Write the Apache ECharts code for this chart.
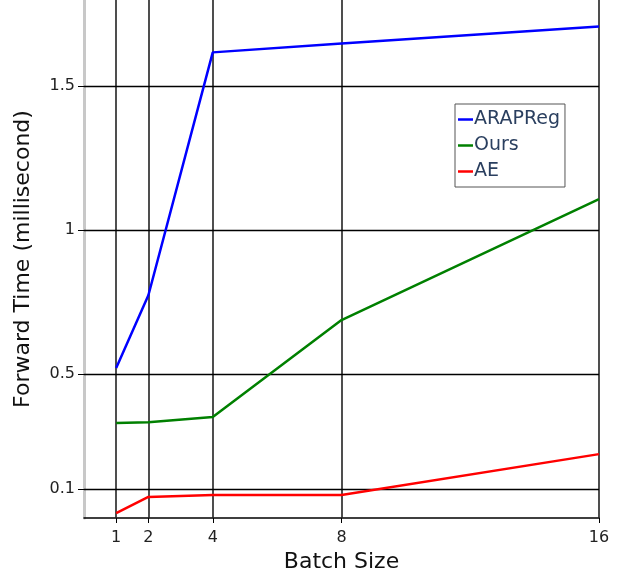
<!DOCTYPE html>
<html><head><meta charset="utf-8">
<script src="https://cdn.jsdelivr.net/npm/echarts@6/dist/echarts.min.js"></script>
<style>html,body{margin:0;padding:0;background:#fff}#c{width:620px;height:575px}</style>
</head><body><div id="c"></div>
<script>
const batchSizes = [1, 2, 4, 8, 16];
const arapreg = [0.521, 0.774, 1.618, 1.649, 1.708];
const ours = [0.330, 0.333, 0.351, 0.688, 1.108];
const ae = [0.017, 0.073, 0.080, 0.080, 0.222];
const yTicks = [0.1, 0.5, 1, 1.5];
const xTicks = [1, 2, 4, 8, 16];

const font = 'DejaVu Sans';
const pairs = a => batchSizes.map((x, i) => [x, a[i]]);
const chart = echarts.init(document.getElementById('c'));
chart.setOption({
  animation: false,
  textStyle: {fontFamily: font},
  grid: {left: 84, right: 21, top: 0, bottom: 57, outerBoundsMode: 'none', containLabel: false},
  legend: {
    orient: 'vertical', left: 455, top: 104, padding: [6, 5, 6, 3],
    borderColor: '#555', borderWidth: 1, backgroundColor: '#fff', itemGap: 7,
    icon: 'rect', itemWidth: 15, itemHeight: 2.5,
    textStyle: {fontSize: 19, color: '#2a3f5f', fontFamily: font, padding: [0, 0, 0, -4]},
    data: ['ARAPReg', 'Ours', 'AE']
  },
  xAxis: {
    type: 'value', min: 0, max: 16,
    name: 'Batch Size', nameLocation: 'middle', nameGap: 31,
    nameTextStyle: {fontSize: 22, color: '#111', fontFamily: font},
    axisLine: {show: true, lineStyle: {color: '#000', width: 1.5}},
    axisTick: {show: true, customValues: xTicks, length: 5, lineStyle: {color: '#000'}},
    axisLabel: {customValues: xTicks, fontSize: 16, color: '#222', margin: 12},
    splitLine: {show: false}
  },
  yAxis: {
    type: 'value', min: 0, max: 1.8,
    name: 'Forward Time (millisecond)', nameLocation: 'middle', nameGap: 50,
    nameTextStyle: {fontSize: 22, color: '#111', fontFamily: font},
    axisLine: {show: true, lineStyle: {color: '#c8c8c8', width: 3}},
    axisTick: {show: true, customValues: yTicks, length: 6, lineStyle: {color: '#000'}},
    axisLabel: {customValues: yTicks, fontSize: 16, color: '#222', margin: 9},
    splitLine: {show: false}
  },
  series: [
    {name: 'grid', type: 'line', data: [], silent: true,
     markLine: {silent: true, symbol: 'none', label: {show: false},
       data: xTicks.map(v => ({xAxis: v, lineStyle: {color: '#222', width: 1.6, type: 'solid'}}))
         .concat(yTicks.map(v => ({yAxis: v, lineStyle: {color: '#000', width: 1.3, type: 'solid'}})))}},
    {name: 'ARAPReg', type: 'line', data: pairs(arapreg), showSymbol: false, symbol: 'none', lineStyle: {color: '#0000ff', width: 2.5}, itemStyle: {color: '#0000ff'}, z: 5},
    {name: 'Ours', type: 'line', data: pairs(ours), showSymbol: false, symbol: 'none', lineStyle: {color: '#008000', width: 2.5}, itemStyle: {color: '#008000'}, z: 5},
    {name: 'AE', type: 'line', data: pairs(ae), showSymbol: false, symbol: 'none', lineStyle: {color: '#ff0000', width: 2.5}, itemStyle: {color: '#ff0000'}, z: 5}
  ]
});
</script></body></html>
